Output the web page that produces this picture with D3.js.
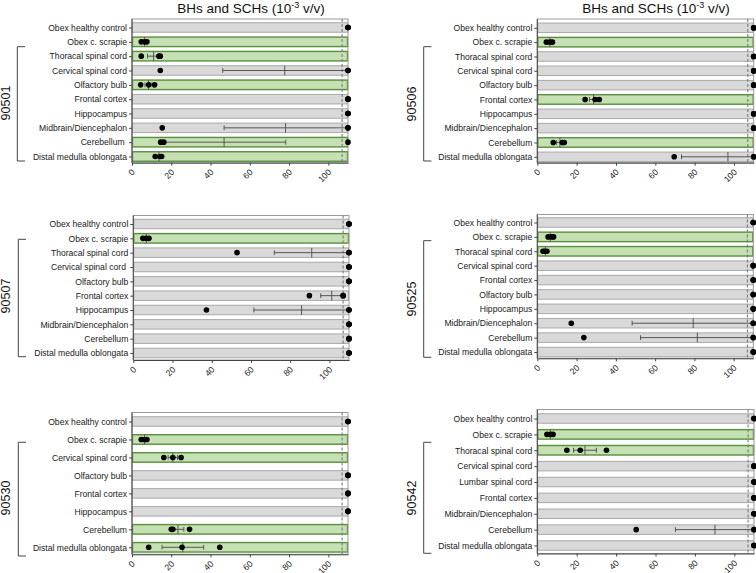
<!DOCTYPE html>
<html>
<head>
<meta charset="utf-8">
<script src="https://cdn.jsdelivr.net/npm/d3@7"></script>
<style>
  html, body { margin: 0; padding: 0; background: #fff; }
  svg { display: block; font-family: "Liberation Sans", Arial, sans-serif; }
  .cat text { white-space: pre; }
</style>
</head>
<body>
<svg id="chart" width="756" height="573"></svg>
<script>
// ---------- DATA ----------
const animals = ["90501", "90506", "90507", "90525", "90530", "90542"];
const xTicks = [0, 20, 40, 60, 80, 100];
const xMax = 110;
const cutoff = 107;

const tissues90501 = ["Obex healthy control", "Obex c. scrapie", "Thoracal spinal cord", "Cervical spinal cord", "Olfactory bulb", "Frontal cortex", "Hippocampus", "Midbrain/Diencephalon", "Cerebellum ", "Distal medulla oblongata"];
const positive90501 = [0, 1, 1, 0, 1, 0, 0, 0, 1, 1];
const reps90501 = [[110,110,110],[4.7,6.4,7.6],[4.7,13.7,14.4],[14.4,110,110],[4.4,8.5,11.5],[110,110,110],[110,110,110],[15.4,110,110],[14.6,16.2,110],[11.8,14.2,15.1]];
const mean90501 = [null, 6.4, 11.0, 77.8, 8.4, null, null, 78.2, 46.9, 13.7];
const err90501 = [null, 0.8, 3.1, 31.6, 1.8, null, null, 31.3, 31.4, 1.0];

const tissues90506 = ["Obex healthy control", "Obex c. scrapie", "Thoracal spinal cord", "Cervical spinal cord", "Olfactory bulb", "Frontal cortex", "Hippocampus", "Midbrain/Diencephalon", "Cerebellum", "Distal medulla oblongata"];
const positive90506 = [0, 1, 0, 0, 0, 1, 0, 0, 1, 0];
const reps90506 = [[110,110,110],[4.6,6.4,7.7],[110,110,110],[110,110,110],[110,110,110],[24.3,29.4,31.5],[110,110,110],[110,110,110],[8.1,12.7,13.7],[69.6,110,110]];
const mean90506 = [null, 6.4, null, null, null, 28.6, null, null, 11.5, 96.9];
const err90506 = [null, 0.9, null, null, null, 2.1, null, null, 1.7, 23.6];

const tissues90507 = ["Obex healthy control", "Obex c. scrapie", "Thoracal spinal cord", "Cervical spinal cord ", "Olfactory bulb", "Frontal cortex", "Hippocampus", "Midbrain/Diencephalon", "Cerebellum", "Distal medulla oblongata"];
const positive90507 = [0, 1, 0, 0, 0, 0, 0, 0, 0, 0];
const reps90507 = [[110,110,110],[4.9,6.6,8.0],[52.9,110,110],[110,110,110],[110,110,110],[89.8,107,107],[37.3,110,110],[110,110,110],[110,110,110],[110,110,110]];
const mean90507 = [null, 6.6, 91.0, null, null, 101.2, 85.8, null, null, null];
const err90507 = [null, 0.9, 19.1, null, null, 5.6, 24.3, null, null, null];

const tissues90525 = ["Obex healthy control", "Obex c. scrapie", "Thoracal spinal cord", "Cervical spinal cord", "Frontal cortex", "Olfactory bulb", "Hippocampus", "Midbrain/Diencephalon", "Cerebellum", "Distal medulla oblongata"];
const positive90525 = [0, 1, 1, 0, 0, 0, 0, 0, 0, 0];
const reps90525 = [[110,110,110],[5.5,7.2,8.3],[2.9,3.8,4.9],[110,110,110],[110,110,110],[110,110,110],[110,110,110],[17.3,110,110],[23.7,110,110],[110,110,110]];
const mean90525 = [null, 6.6, 4.1, null, null, null, null, 79.4, 81.5, null];
const err90525 = [null, 0.8, 0.6, null, null, null, null, 31.1, 28.9, null];

const tissues90530 = ["Obex healthy control", "Obex c. scrapie", "Cervical spinal cord", "Olfactory bulb", "Frontal cortex", "Hippocampus", "Cerebellum", "Distal medulla oblongata"];
const positive90530 = [0, 1, 1, 0, 0, 0, 1, 1];
const reps90530 = [[110,110,110],[4.7,6.4,7.6],[16.2,20.8,25.0],[110,110,110],[110,110,110],[110,110,110],[20.0,20.8,29.3],[8.5,25.5,44.7]];
const mean90530 = [null, 6.4, 20.8, null, null, null, 23.4, 25.9];
const err90530 = [null, 0.8, 2.4, null, null, null, 3.0, 10.6];

const tissues90542 = ["Obex healthy control", "Obex c. scrapie", "Thoracal spinal cord", "Cervical spinal cord", "Lumbar spinal cord", "Frontal cortex", "Midbrain/Diencephalon", "Cerebellum", "Distal medulla oblongata"];
const positive90542 = [0, 1, 1, 0, 0, 0, 0, 0, 0];
const reps90542 = [[110,110,110],[4.9,6.7,8.0],[15.0,21.8,35.1],[110,110,110],[110,110,110],[110,110,110],[110,110,110],[50.2,110,110],[110,110,110]];
const mean90542 = [null, 6.6, 24.2, null, null, null, null, 90.2, null];
const err90542 = [null, 0.9, 5.8, null, null, null, null, 20.1, null];

const tissuesAll = [tissues90501, tissues90506, tissues90507, tissues90525, tissues90530, tissues90542];
const positiveAll = [positive90501, positive90506, positive90507, positive90525, positive90530, positive90542];
const repsAll = [reps90501, reps90506, reps90507, reps90525, reps90530, reps90542];
const meanAll = [mean90501, mean90506, mean90507, mean90525, mean90530, mean90542];
const errAll = [err90501, err90506, err90507, err90525, err90530, err90542];

// ---------- LAYOUT ----------
const layout = [
  {x0:132,   x1:348,   yFirst:27.5,  yLast:156.5, top:19,    bottom:162.7, brX:17.3,  brTop:46.7,  brBot:161,   labX:5.8,  labY:103,  titleX:251},
  {x0:537.3, x1:753.7, yFirst:27.8,  yLast:156.8, top:19,    bottom:162.7, brX:423.7, brTop:46.7,  brBot:161,   labX:411,  labY:104,  titleX:656},
  {x0:133.3, x1:349,   yFirst:224,   yLast:353,   top:215.5, bottom:360,   brX:18.3,  brTop:239.3, brBot:356.7, labX:5.8,  labY:296},
  {x0:537.3, x1:753.3, yFirst:222.5, yLast:352,   top:214.5, bottom:358.3, brX:423.7, brTop:240.7, brBot:357.3, labX:411,  labY:299},
  {x0:132,   x1:348,   yFirst:421.5, yLast:547.3, top:412.5, bottom:554.3, brX:18.3,  brTop:442.3, brBot:556,   labX:5.8,  labY:498},
  {x0:537.3, x1:754,   yFirst:418.5, yLast:545.5, top:409.5, bottom:553.5, brX:423.7, brTop:442.3, brBot:553.3, labX:411,  labY:498}
];

const svg = d3.select("#chart");
const barH = 9.5;

animals.forEach((animal, p) => {
  const L = layout[p];
  const tissues = tissuesAll[p];
  const n = tissues.length;
  const x = d3.scaleLinear().domain([0, xMax]).range([L.x0, L.x1]);
  const y = d3.scalePoint().domain(d3.range(n)).range([L.yFirst, L.yLast]).padding(0);
  const g = svg.append("g");

  // bars (full-range band per tissue)
  g.selectAll("rect.bar").data(d3.range(n)).join("rect")
    .attr("x", x(0) + 0.5)
    .attr("width", x(xMax) - x(0) - 1)
    .attr("y", i => y(i) - barH / 2)
    .attr("height", barH)
    .attr("fill", i => positiveAll[p][i] ? "#c5e0b3" : "#d9d9d9")
    .attr("stroke", i => positiveAll[p][i] ? "#5a8f3c" : "#a9a9a9")
    .attr("stroke-width", i => positiveAll[p][i] ? 1.4 : 1);

  // frame
  g.append("rect").attr("x", L.x0).attr("y", L.top)
    .attr("width", L.x1 - L.x0).attr("height", L.bottom - L.top)
    .attr("fill", "none").attr("stroke", "#9a9a9a").attr("stroke-width", 1);

  // dashed cutoff line
  g.append("line").attr("x1", x(cutoff)).attr("x2", x(cutoff))
    .attr("y1", L.top).attr("y2", L.bottom)
    .attr("stroke", "#7a7a7a").attr("stroke-width", 1.1).attr("stroke-dasharray", "3,2");

  // error bars (mean ± error), clipped to axis max
  const eb = g.append("g").attr("stroke", "#555").attr("stroke-width", 1).attr("fill", "none");
  d3.range(n).forEach(i => {
    const m = meanAll[p][i];
    if (m === null) return;
    const e = errAll[p][i];
    const lo = Math.max(0, m - e), hi = Math.min(xMax, m + e);
    const cy = y(i);
    eb.append("line").attr("x1", x(lo)).attr("x2", x(hi)).attr("y1", cy).attr("y2", cy);
    eb.append("line").attr("x1", x(m)).attr("x2", x(m)).attr("y1", cy - 4.8).attr("y2", cy + 4.8);
    if (m - e > 0) eb.append("line").attr("x1", x(lo)).attr("x2", x(lo)).attr("y1", cy - 2.4).attr("y2", cy + 2.4);
    if (m + e < xMax) eb.append("line").attr("x1", x(hi)).attr("x2", x(hi)).attr("y1", cy - 2.4).attr("y2", cy + 2.4);
  });

  // replicate dots
  const pts = [];
  repsAll[p].forEach((arr, i) => arr.forEach(v => pts.push({i, v})));
  g.selectAll("circle.pt").data(pts).join("circle")
    .attr("cx", d => x(d.v)).attr("cy", d => y(d.i)).attr("r", 2.8).attr("fill", "#000");

  // y axis
  const yAxis = d3.axisLeft(y).tickSize(3).tickSizeOuter(0).tickPadding(2).tickFormat(i => tissues[i]);
  const ya = g.append("g").attr("class", "cat").attr("transform", `translate(${L.x0},0)`).call(yAxis);
  ya.select(".domain").remove();
  ya.selectAll(".tick line").attr("stroke", "#444");
  ya.selectAll(".tick text").attr("font-size", "8.6px").attr("fill", "#1a1a1a")
    .attr("font-family", "'Liberation Sans', Arial, sans-serif");
  g.append("line").attr("x1", L.x0).attr("x2", L.x0).attr("y1", L.top).attr("y2", L.bottom)
    .attr("stroke", "#444").attr("stroke-width", 1);

  // x axis
  const xAxis = d3.axisBottom(x).tickValues(xTicks).tickSize(3).tickSizeOuter(0);
  const xa = g.append("g").attr("transform", `translate(0,${L.bottom})`).call(xAxis);
  xa.select(".domain").attr("stroke", "#444");
  xa.selectAll(".tick line").attr("stroke", "#444");
  xa.selectAll(".tick text")
    .attr("font-size", "8.6px").attr("fill", "#1a1a1a")
    .attr("font-family", "'Liberation Sans', Arial, sans-serif")
    .attr("text-anchor", "end")
    .attr("y", 0).attr("dy", 0)
    .attr("transform", "translate(3,10) rotate(-45)");

  // bracket for animal
  g.append("path")
    .attr("d", `M${L.brX + 7.7},${L.brTop}H${L.brX}V${L.brBot}H${L.brX + 7.7}`)
    .attr("fill", "none").attr("stroke", "#444").attr("stroke-width", 1);
  g.append("text")
    .attr("transform", `translate(${L.labX},${L.labY}) rotate(-90)`)
    .attr("text-anchor", "middle").attr("dy", "0.36em")
    .attr("font-size", "12.5px").attr("fill", "#111")
    .text(animal);

  // title
  if (L.titleX) {
    const t = g.append("text").attr("x", L.titleX).attr("y", 12.5)
      .attr("text-anchor", "middle").attr("font-size", "13.5px").attr("fill", "#111");
    t.append("tspan").text("BHs and SCHs (10");
    t.append("tspan").attr("dy", -5).attr("font-size", "9px").text("-3");
    t.append("tspan").attr("dy", 5).text(" v/v)");
  }
});
</script>
</body>
</html>
